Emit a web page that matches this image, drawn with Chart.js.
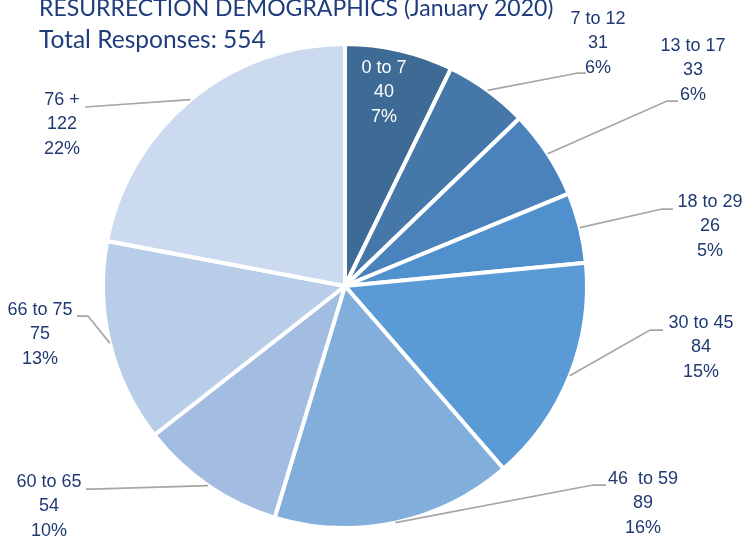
<!DOCTYPE html>
<html>
<head>
<meta charset="utf-8">
<script src="https://cdn.jsdelivr.net/npm/chart.js@4"></script>
<style>
  html, body { margin: 0; padding: 0; background: #fff; overflow: hidden; }
  canvas { display: block; }
</style>
</head>
<body>
<canvas id="chart-demo" width="742" height="541"></canvas>
<script>
// chart data
const titleLine1 = "RESURRECTION DEMOGRAPHICS (January 2020)";
const titleLine2 = "Total Responses: 554";
const ageGroups = ["0 to 7", "7 to 12", "13 to 17", "18 to 29", "30 to 45", "46  to 59", "60 to 65", "66 to 75", "76 +"];
const responses = [40, 31, 33, 26, 84, 89, 54, 75, 122];
const percents = ["7%", "6%", "6%", "5%", "15%", "16%", "10%", "13%", "22%"];
const sliceColors = ["#3e6b96", "#4577a8", "#4a83bb", "#5090cc", "#5b9bd5", "#82aedc", "#a3bde2", "#b8cde8", "#cbdaee"];

// where each label sits (text centre of first line) and the leader line bends
const labelLayout = [
  { x: 384, y: 68, inside: true },
  { x: 598, y: 19, elbow: [578, 73], end: [586, 73] },
  { x: 693, y: 46, elbow: [667, 101], end: [678, 101] },
  { x: 710, y: 202, elbow: [662, 209], end: [673, 209] },
  { x: 701, y: 323, elbow: [650, 330], end: [663, 330] },
  { x: 643, y: 479, elbow: [593, 485], end: [606, 485] },
  { x: 49, y: 482, elbow: [92, 489], end: [86, 489] },
  { x: 40, y: 310, elbow: [88, 316], end: [77, 316] },
  { x: 62, y: 100, elbow: [85, 107], end: [85, 107] },
];

const labelPlugin = {
  id: "sliceLabels",
  afterDatasetsDraw(chart) {
    const ctx = chart.ctx;
    const meta = chart.getDatasetMeta(0);
    ctx.save();
    meta.data.forEach((arc, i) => {
      const L = labelLayout[i];
      const mid = (arc.startAngle + arc.endAngle) / 2;
      if (!L.inside) {
        const sx = arc.x + Math.cos(mid) * arc.outerRadius;
        const sy = arc.y + Math.sin(mid) * arc.outerRadius;
        ctx.beginPath();
        ctx.moveTo(sx, sy);
        ctx.lineTo(L.elbow[0], L.elbow[1]);
        ctx.lineTo(L.end[0], L.end[1]);
        ctx.strokeStyle = "#a6a6a6";
        ctx.lineWidth = 1.75;
        ctx.stroke();
      }
      ctx.font = "18px Arial, 'Liberation Sans', sans-serif";
      ctx.textAlign = "center";
      ctx.textBaseline = "middle";
      ctx.fillStyle = L.inside ? "#ffffff" : "#1f3a73";
      const lines = [ageGroups[i], String(responses[i]), percents[i]];
      lines.forEach((t, k) => ctx.fillText(t, L.x, L.y + k * 24.5));
    });

    // title
    ctx.textAlign = "left";
    ctx.textBaseline = "alphabetic";
    ctx.fillStyle = "#1f3d7c";
    ctx.font = "23px Lato, 'Open Sans', sans-serif";
    ctx.fillText(titleLine1, 39, 16);
    ctx.font = "24.5px Lato, 'Open Sans', sans-serif";
    ctx.fillText(titleLine2, 39, 48);
    ctx.restore();
  }
};

let ctx_demo = document.getElementById("chart-demo").getContext("2d");
let chart_demo = new Chart(ctx_demo, {
  type: "pie",
  data: {
    labels: ageGroups,
    datasets: [
      {
        data: responses,
        backgroundColor: sliceColors,
        borderColor: "#ffffff",
        borderWidth: 4,
      },
    ],
  },
  options: {
    responsive: false,
    animation: false,
    radius: 242,
    layout: {
      padding: { left: 105, right: 157, top: 46, bottom: 15 },
    },
    plugins: {
      legend: { display: false },
      tooltip: { enabled: false },
    },
  },
  plugins: [labelPlugin],
});
</script>
</body>
</html>
